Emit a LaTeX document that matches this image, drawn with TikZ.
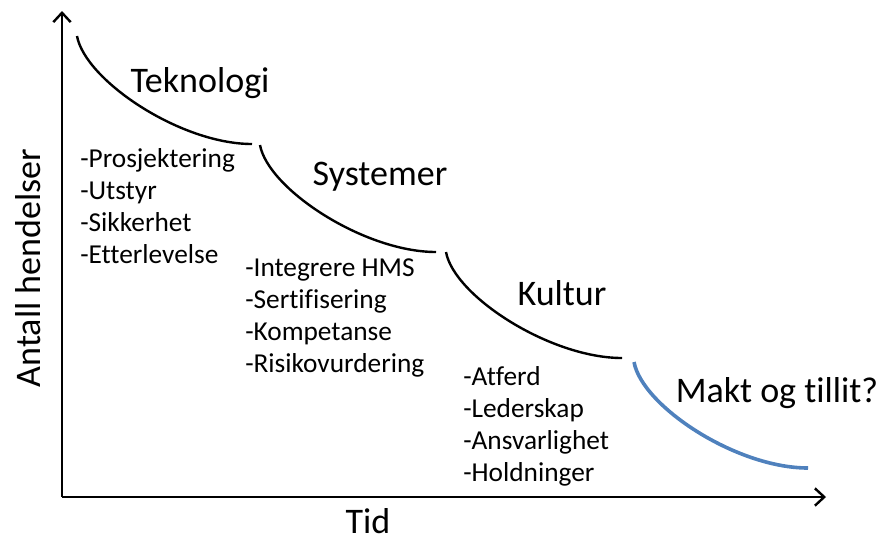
\documentclass[tikz,border=0pt]{standalone}
\usepackage{fontspec}
\setmainfont{Carlito}[Ligatures={NoCommon}]
\usetikzlibrary{arrows.meta}
\definecolor{curveblue}{RGB}{79,129,189}
\begin{document}
\begin{tikzpicture}[x=0.75pt,y=-0.75pt,
  axis/.style={line width=1.8pt,-{Straight Barb[length=7pt,width=13pt,line width=1.8pt]}},
  stepcurve/.style={line width=1.8pt,black},
  bluecurve/.style={line width=2.7pt,curveblue},
  title/.style={font=\fontsize{27}{32}\selectfont,inner sep=0pt,anchor=base},
  item/.style={font=\fontsize{20.5}{24}\selectfont,anchor=base west,inner sep=0pt},
  axlabel/.style={font=\fontsize{27}{32}\selectfont,inner sep=0pt}]
\useasboundingbox (0,0) rectangle (880,540);
% axes
\coordinate (O) at (62,497);
\coordinate (ytip) at (62,11);
\coordinate (xtip) at (826,497);
\draw[axis] (O) -- (ytip);
\draw[axis] (O) -- (xtip);
% curves
\coordinate (c1s) at (77,36);   \coordinate (c1e) at (252,144);
\coordinate (c2s) at (260,145); \coordinate (c2e) at (436,252);
\coordinate (c3s) at (446,252); \coordinate (c3e) at (622,358);
\coordinate (c4s) at (634,362); \coordinate (c4e) at (808,468);
\draw[stepcurve] (c1s) .. controls +(8,44) and +(-72,0) .. (c1e);
\draw[stepcurve] (c2s) .. controls +(8,44) and +(-72,0) .. (c2e);
\draw[stepcurve] (c3s) .. controls +(8,44) and +(-72,0) .. (c3e);
\draw[bluecurve] (c4s) .. controls +(8,44) and +(-72,0) .. (c4e);
% titles
\node[title] (t1) at (200,92) {Teknologi};
\node[title] (t2) at (380,185) {Systemer};
\node[title] (t3) at (562,305) {Kultur};
\node[title] (t4) at (777,402) {Makt og tillit?};
% lists
\node[item] (a1) at (80,167) {-Prosjektering};
\node[item] (a2) at (80,199) {-Utstyr};
\node[item] (a3) at (80,231) {-Sikkerhet};
\node[item] (a4) at (80,263) {-Etterlevelse};
\node[item] (b1) at (245,276) {-Integrere HMS};
\node[item] (b2) at (245,308) {-Sertifisering};
\node[item] (b3) at (245,340) {-Kompetanse};
\node[item] (b4) at (245,372) {-Risikovurdering};
\node[item] (d1) at (463,385) {-Atferd};
\node[item] (d2) at (463,417) {-Lederskap};
\node[item] (d3) at (463,449) {-Ansvarlighet};
\node[item] (d4) at (463,481) {-Holdninger};
% axis labels
\node[axlabel,anchor=base,text depth=0pt] (xl) at (368,533) {Tid};
\node[axlabel,rotate=90] (yl) at (28,268) {Antall hendelser};
\end{tikzpicture}
\end{document}
